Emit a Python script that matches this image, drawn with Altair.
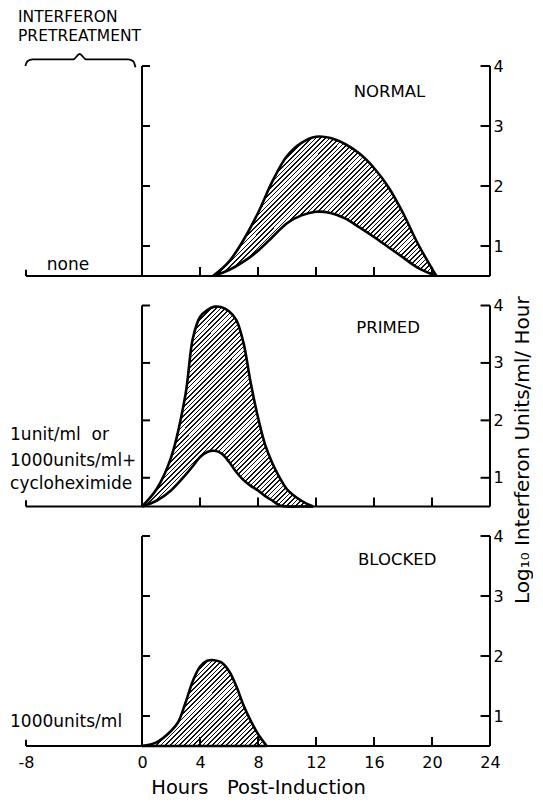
import math
import altair as alt
import pandas as pd

FONT = "DejaVu Sans"
NB = "\u00a0"

# ---------------- data ----------------
X_DOMAIN = [-8, 24]
Y_DOMAIN = [0.5, 4]
X_LABELS = [-8, 0, 4, 8, 12, 16, 20, 24]
X_TICKS = [4, 8, 12, 16, 20]
Y_TICKS = [1, 2, 3, 4]

normal_x = [4.9, 6, 7, 8, 9, 10, 11, 12, 13, 14, 15, 16, 17, 18, 19, 20.3]
normal_upper = [0.5, 0.74, 1.1, 1.55, 2.08, 2.5, 2.72, 2.82, 2.80, 2.70, 2.54, 2.30, 1.98, 1.55, 1.05, 0.5]
normal_lower = [0.5, 0.6, 0.74, 0.92, 1.15, 1.38, 1.51, 1.57, 1.55, 1.46, 1.31, 1.15, 0.98, 0.81, 0.64, 0.5]

primed_x = [0, 1, 2, 3, 3.5, 4, 4.5, 5, 5.5, 6, 6.5, 7, 7.5, 8, 8.5, 9, 9.5, 10, 11, 11.8]
primed_upper = [0.5, 0.8, 1.35, 2.45, 3.42, 3.8, 3.92, 3.98, 3.97, 3.9, 3.75, 3.35, 2.65, 2.05, 1.57, 1.25, 1.0, 0.8, 0.6, 0.5]
primed_lower = [0.5, 0.6, 0.78, 1.05, 1.2, 1.36, 1.45, 1.47, 1.42, 1.28, 1.1, 0.96, 0.86, 0.78, 0.68, 0.6, 0.52, 0.5, 0.5, 0.5]

blocked_x = [0, 1, 2, 2.5, 3, 3.5, 4, 4.5, 5, 5.5, 6, 6.5, 7, 7.5, 8, 8.6]
blocked_upper = [0.5, 0.56, 0.75, 0.9, 1.22, 1.58, 1.82, 1.92, 1.93, 1.89, 1.75, 1.5, 1.18, 0.92, 0.7, 0.5]

panel_titles = ["NORMAL", "PRIMED", "BLOCKED"]
panel_title_x = [17.07, 16.97, 17.6]
panel_title_y = [3.57, 3.6, 3.6]

pretreat_lines = [["none"],
                  ["1unit/ml" + NB + NB + "or", "1000units/ml+", "cycloheximide"],
                  ["1000units/ml"]]
pretreat_x = [-5.1, -9.1, -9.1]
pretreat_align = ["center", "left", "left"]
pretreat_y = [[0.68], [1.74, 1.3, 0.9], [0.9]]

header_lines = ["INTERFERON", "PRETREATMENT"]
header_y = [4.82, 4.5]
header_x = -8.55

brace_x = [-8.05, -7.9, -7.55, -4.75, -4.3, -3.85, -0.95, -0.6, -0.45]
brace_y = [4.0, 4.08, 4.11, 4.11, 4.2, 4.11, 4.11, 4.08, 3.98]

y_title = "Log\u2081\u2080 Interferon Units/ml/ Hour"
x_title = "Hours" + NB + NB + NB + "Post-Induction"

W = 464
HEIGHTS = [210, 201, 210]


def hatch(xs, top, bot, pxx, pxy, spacing=3.3, frac=0.34):
    Wb = (max(xs) - min(xs)) * pxx
    Hb = (max(top) - min(bot)) * pxy
    k = (Wb + Hb) / (Wb * Wb + Hb * Hb)
    D = (Wb + Hb) / math.sqrt(2)
    n = max(1, int(D / spacing))
    stops = []
    for i in range(n):
        a, b, c = i / n, (i + frac) / n, (i + 1) / n
        stops += [{"offset": a, "color": "#111"}, {"offset": b, "color": "#111"},
                  {"offset": b, "color": "#fff"}, {"offset": c, "color": "#fff"}]
    return {"gradient": "linear", "x1": 0, "y1": 0, "x2": k * Wb, "y2": k * Hb, "stops": stops}


def panel(i, xs, up, lo, bottom=False):
    h = HEIGHTS[i]
    pxy = h / (Y_DOMAIN[1] - Y_DOMAIN[0])
    pxx = W / (X_DOMAIN[1] - X_DOMAIN[0])
    xscale = alt.Scale(domain=X_DOMAIN, nice=False, zero=False)
    yscale = alt.Scale(domain=Y_DOMAIN, nice=False, zero=False)
    if bottom:
        xaxis = alt.Axis(values=X_LABELS, domain=False, ticks=False, grid=False,
                         labelFlush=False, labelPadding=8, labelFontSize=16,
                         labelFont=FONT, labelColor="black", title=x_title,
                         labelExpr="'' + datum.value",
                         titleFont=FONT, titleFontSize=19.5, titleFontWeight="normal",
                         titleColor="black", titlePadding=8)
    else:
        xaxis = None
    yaxis = alt.Axis(orient="right", values=Y_TICKS, domain=False, ticks=False, grid=False,
                     labelPadding=3, labelFontSize=16, labelFont=FONT,
                     labelColor="black", title=None, format="d")

    def X(f="x"):
        return alt.X(f"{f}:Q", scale=xscale, axis=xaxis)

    def Y(f="y"):
        return alt.Y(f"{f}:Q", scale=yscale, axis=yaxis)

    df = pd.DataFrame({"x": xs, "y": up, "y2": lo})
    interp = "catmull-rom"
    area = alt.Chart(df).mark_area(
        fill=hatch(xs, up, lo, pxx, pxy), interpolate=interp, strokeWidth=0
    ).encode(x=X(), y=Y(), y2="y2:Q")
    line_up = alt.Chart(df).mark_line(color="black", strokeWidth=2.6, interpolate=interp).encode(x=X(), y=Y())
    line_lo = alt.Chart(df).mark_line(color="black", strokeWidth=2.6, interpolate=interp).encode(x=X(), y=Y("y2"))

    tl = 0.15 * 60 / pxy
    vrules = pd.DataFrame(
        {"x": [0, 24, -8] + X_TICKS,
         "y": [Y_DOMAIN[0]] * (3 + len(X_TICKS)),
         "y2": [Y_DOMAIN[1], Y_DOMAIN[1], Y_DOMAIN[0] + tl * 0.7] + [Y_DOMAIN[0] + tl] * len(X_TICKS)})
    hrules = pd.DataFrame(
        {"x": [X_DOMAIN[0]] + [0] * len(Y_TICKS) + [23.35] * len(Y_TICKS),
         "x2": [X_DOMAIN[1]] + [0.55] * len(Y_TICKS) + [24] * len(Y_TICKS),
         "y": [Y_DOMAIN[0]] + Y_TICKS + Y_TICKS})
    vr = alt.Chart(vrules).mark_rule(color="black", strokeWidth=2).encode(x=X(), y=Y(), y2="y2:Q")
    hr = alt.Chart(hrules).mark_rule(color="black", strokeWidth=2).encode(x=X(), x2="x2:Q", y=Y())

    tdf = pd.DataFrame({"x": [panel_title_x[i]], "y": [panel_title_y[i]], "t": [panel_titles[i]]})
    ttl = alt.Chart(tdf).mark_text(font=FONT, fontSize=16.5, color="black").encode(x=X(), y=Y(), text="t:N")

    pdf = pd.DataFrame({"x": [pretreat_x[i]] * len(pretreat_lines[i]), "y": pretreat_y[i], "t": pretreat_lines[i]})
    pre = alt.Chart(pdf).mark_text(font=FONT, fontSize=17, color="black", align=pretreat_align[i],
                                   baseline="middle").encode(x=X(), y=Y(), text="t:N")

    layers = [area, line_up, line_lo, vr, hr, ttl, pre]
    if i == 0:
        hdf = pd.DataFrame({"x": [header_x] * 2, "y": header_y, "t": header_lines})
        layers.append(alt.Chart(hdf).mark_text(font=FONT, fontSize=15.5, color="black", align="left",
                                               baseline="middle").encode(x=X(), y=Y(), text="t:N"))
        bdf = pd.DataFrame({"x": brace_x, "y": brace_y, "o": list(range(len(brace_x)))})
        layers.append(alt.Chart(bdf).mark_line(color="black", strokeWidth=1.8, interpolate="monotone")
                      .encode(x=X(), y=Y(), order="o:Q"))
    if i == 1:
        ydf = pd.DataFrame({"x": [26.25], "y": [1.48], "t": [y_title]})
        layers.append(alt.Chart(ydf).mark_text(font=FONT, fontSize=20, color="black", angle=270,
                                               align="center", baseline="middle").encode(x=X(), y=Y(), text="t:N"))
    return alt.layer(*layers).properties(width=W, height=h)


p1 = panel(0, normal_x, normal_upper, normal_lower)
p2 = panel(1, primed_x, primed_upper, primed_lower)
p3 = panel(2, blocked_x, blocked_upper, [0.5] * len(blocked_x), bottom=True)

chart = alt.vconcat(p1, p2, p3, spacing=29.5, bounds="flush").properties(
    padding={"left": 2, "right": 0, "top": 1, "bottom": 0},
    background="white",
).configure_view(strokeWidth=0, stroke="transparent")

chart.save("out.html", embed_options={"renderer": "svg", "actions": False})
